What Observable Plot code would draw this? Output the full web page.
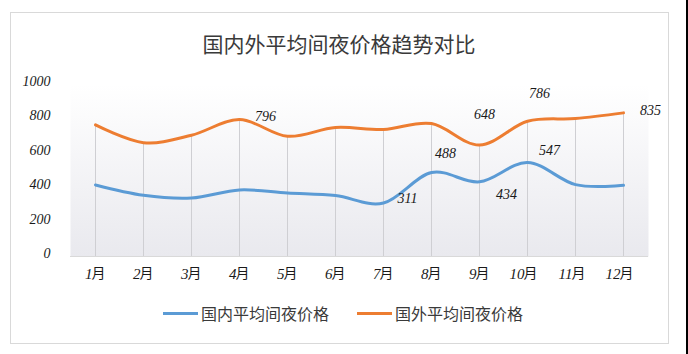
<!DOCTYPE html>
<html>
<head>
<meta charset="utf-8">
<script src="https://cdn.jsdelivr.net/npm/d3@7"></script>
<script src="https://cdn.jsdelivr.net/npm/@observablehq/plot@0.6"></script>
<style>
  html, body { margin: 0; padding: 0; background: #fff; }
  #wrap { position: relative; width: 688px; height: 354px; overflow: hidden; background: #fff; font-family: "Noto Sans CJK SC", sans-serif; }
  #border { position: absolute; left: 10px; top: 12px; width: 657px; height: 330px; border: 1px solid #d9d9d9; box-sizing: content-box; }
  #title { position: absolute; left: 10px; width: 658px; top: 30px; height: 26px; line-height: 26px; text-align: center; font-size: 21px; color: #3a3a3a; }
  #chart { position: absolute; left: 0; top: 60px; }
  #legend { position: absolute; left: 0; top: 303px; width: 688px; height: 20px; }
  .item { position: absolute; top: 0; height: 20px; line-height: 20px; font-size: 16px; color: #3a3a3a; white-space: nowrap; }
  .sw { position: absolute; top: 9px; width: 35px; height: 3px; }
  #strip { position: absolute; right: 0; top: 0; width: 2px; height: 354px; background: #000; }
</style>
</head>
<body>
<div id="wrap">
  <div id="border"></div>
  <div id="title"></div>
  <div id="chart"></div>
  <div id="legend"></div>
  <div id="strip"></div>
</div>
<script>
// ---- data ----
const title = "国内外平均间夜价格趋势对比";
const months = ["1月","2月","3月","4月","5月","6月","7月","8月","9月","10月","11月","12月"];
const seriesNames = ["国内平均间夜价格", "国外平均间夜价格"];
const domestic = [416, 356, 340, 387, 369, 354, 311, 488, 434, 547, 418, 414];
const foreign  = [765, 662, 705, 796, 699, 750, 738, 773, 648, 786, 802, 835];
const yTicks = [0, 200, 400, 600, 800, 1000];
const labeledDomestic = ["7月", "8月", "9月", "10月"];
const labeledForeign  = ["4月", "9月", "10月", "12月"];

// ---- layout / style (not data) ----
const colors = ["#5B9BD5", "#ED7D31"];
const labelOffsets = {
  "国内平均间夜价格|7月":  [24, -4],
  "国内平均间夜价格|8月":  [14, -19],
  "国内平均间夜价格|9月":  [27, 13],
  "国内平均间夜价格|10月": [22, -12],
  "国外平均间夜价格|4月":  [26, -3],
  "国外平均间夜价格|9月":  [5, -31],
  "国外平均间夜价格|10月": [12, -28],
  "国外平均间夜价格|12月": [27, -2]
};
const numFont = "Liberation Serif";

const table = months.flatMap((m, i) => [
  {month: m, series: seriesNames[0], value: domestic[i]},
  {month: m, series: seriesNames[1], value: foreign[i]}
]);
const dropTable = months.map((m, i) => ({month: m, top: Math.max(domestic[i], foreign[i])}));

const labelRows = [
  ...labeledDomestic.map(m => ({month: m, series: seriesNames[0], value: domestic[months.indexOf(m)]})),
  ...labeledForeign.map(m => ({month: m, series: seriesNames[1], value: foreign[months.indexOf(m)]}))
];
const labelMarks = labelRows.map(r => {
  const [dx, dy] = labelOffsets[r.series + "|" + r.month];
  return Plot.text([r], {x: "month", y: "value", text: d => String(d.value), dx, dy,
    fontStyle: "italic", fontFamily: numFont, fontSize: 14, fill: "#1a1a1a"});
});

document.getElementById("title").textContent = title;

const svg = Plot.plot({
  width: 688,
  height: 226,
  marginTop: 24,
  marginBottom: 30,
  marginLeft: 70,
  marginRight: 40,
  style: {background: "transparent", overflow: "visible"},
  x: {type: "point", domain: months, padding: 0.5, axis: null, label: null},
  y: {domain: [0, 1000], axis: null, label: null},
  color: {domain: seriesNames, range: colors},
  marks: [
    Plot.frame({fill: "url(#bgGrad)", stroke: "none"}),
    Plot.ruleX(dropTable, {x: "month", y1: 0, y2: "top", stroke: "#cfcfd3", strokeWidth: 1}),
    Plot.ruleY([0], {stroke: "#d9d9d9", strokeWidth: 1}),
    Plot.axisY(yTicks, {tickSize: 0, tickPadding: 20, dy: -3, fontStyle: "italic", label: null,
      tickFormat: d => String(d), fontFamily: numFont, fontSize: 14, fill: "#1a1a1a"}),
    Plot.axisX(months, {tickSize: 0, tickPadding: 12, tickFormat: d => d.replace("月", ""), label: null,
      textAnchor: "end", dx: -3, fontStyle: "italic", fontFamily: numFont, fontSize: 15, fill: "#1a1a1a"}),
    Plot.axisX(months, {tickSize: 0, tickPadding: 12, tickFormat: () => "月", label: null,
      textAnchor: "start", dx: -4, fontFamily: "Noto Sans CJK SC", fontSize: 14, fill: "#1a1a1a"}),
    Plot.line(table, {x: "month", y: "value", stroke: "series", curve: "cardinal", strokeWidth: 3, strokeLinecap: "round"}),
    ...labelMarks
  ]
});

// gradient definition for the plot area background
const ns = "http://www.w3.org/2000/svg";
const defs = document.createElementNS(ns, "defs");
const grad = document.createElementNS(ns, "linearGradient");
grad.setAttribute("id", "bgGrad");
grad.setAttribute("x1", "0"); grad.setAttribute("y1", "0");
grad.setAttribute("x2", "0"); grad.setAttribute("y2", "1");
[["0%", "#ffffff"], ["100%", "#e9e9ee"]].forEach(([o, c]) => {
  const s = document.createElementNS(ns, "stop");
  s.setAttribute("offset", o); s.setAttribute("stop-color", c);
  grad.appendChild(s);
});
defs.appendChild(grad);
svg.insertBefore(defs, svg.firstChild);

document.getElementById("chart").appendChild(svg);

// legend
const legend = document.getElementById("legend");
const legendPos = [163, 357];
seriesNames.forEach((name, i) => {
  const sw = document.createElement("div");
  sw.className = "sw";
  sw.style.left = legendPos[i] + "px";
  sw.style.background = colors[i];
  legend.appendChild(sw);
  const t = document.createElement("div");
  t.className = "item";
  t.style.left = (legendPos[i] + 38) + "px";
  t.textContent = name;
  legend.appendChild(t);
});
</script>
</body>
</html>
